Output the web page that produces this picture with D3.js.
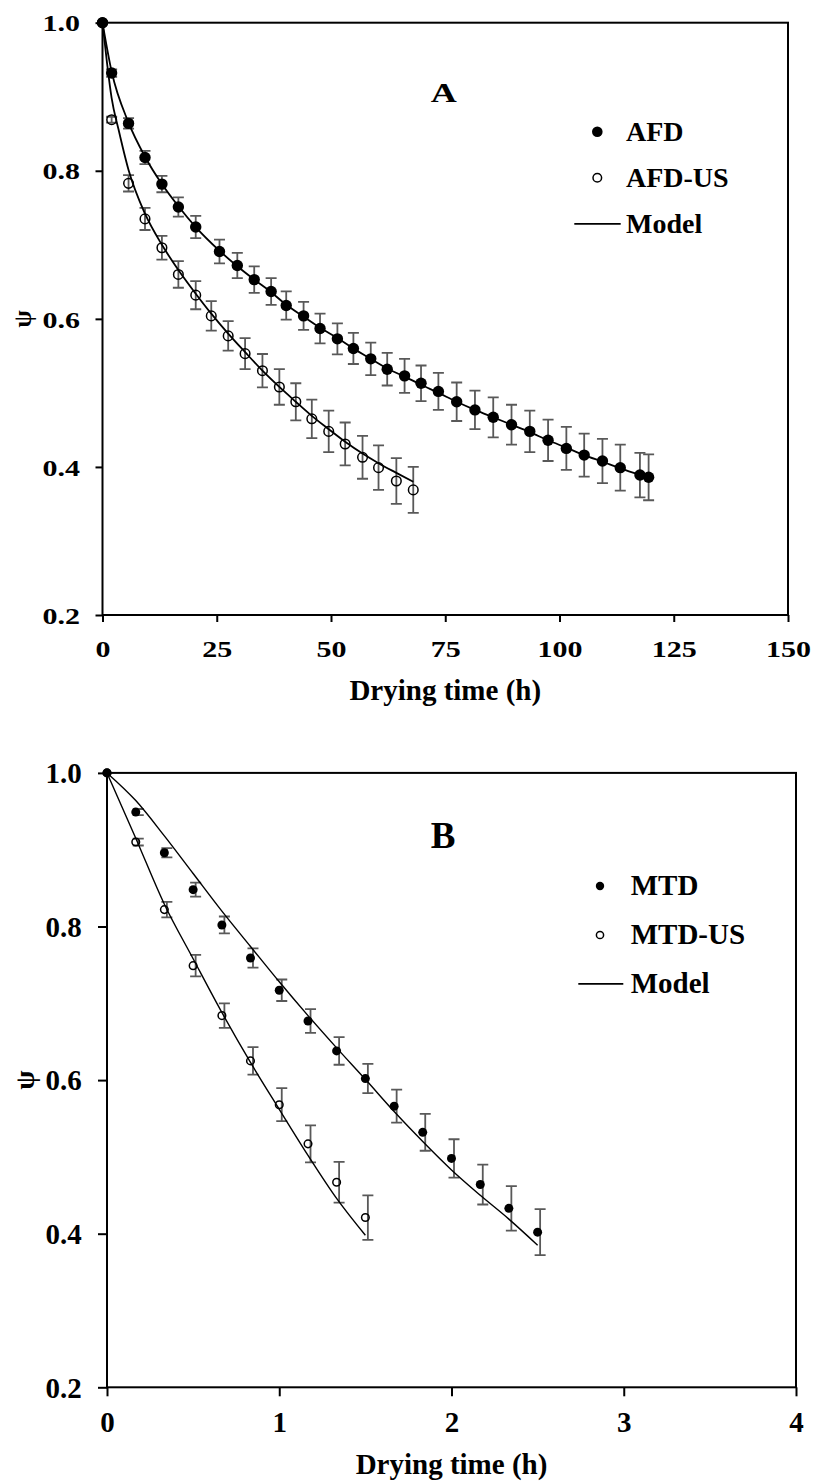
<!DOCTYPE html>
<html lang="en">
<head>
<meta charset="UTF-8">
<title>Drying kinetics - AFD / MTD</title>
<script src="https://d3js.org/d3.v7.min.js"></script>
<style>
    body { margin: 0; background: #fff; }
    svg text { font-family: "Liberation Serif", "Times New Roman", serif; font-weight: bold; fill: #000; }
</style>
</head>
<body>
<script>
    // ---- Panel A : air freeze drying (time in h) ----
    const afdTime = [0, 2, 5.7, 9.3, 13, 16.6, 20.4, 25.6, 29.5, 33.2, 36.9, 40.2, 44, 47.6, 51.4, 54.9, 58.7,
        62.3, 66.1, 69.7, 73.5, 77.5, 81.5, 85.5, 89.5, 93.5, 97.5, 101.5, 105.4, 109.4, 113.3, 117.6, 119.5];
    const afdPsi = [1.0, 0.932, 0.864, 0.818, 0.782, 0.751, 0.724, 0.691, 0.672, 0.653, 0.637, 0.618, 0.604, 0.587, 0.573,
        0.560, 0.546, 0.532, 0.523, 0.513, 0.502, 0.488, 0.477, 0.467, 0.457, 0.448, 0.436, 0.425, 0.416, 0.408, 0.399, 0.389, 0.386];
    const afdErr = [0, 0.005, 0.007, 0.009, 0.011, 0.013, 0.015, 0.016, 0.017, 0.018, 0.018, 0.019, 0.019, 0.020, 0.021,
        0.021, 0.022, 0.022, 0.023, 0.024, 0.025, 0.026, 0.026, 0.027, 0.027, 0.028, 0.028, 0.029, 0.029, 0.030, 0.031, 0.030, 0.031];

    const afdUsTime = [0, 2, 5.7, 9.3, 13, 16.6, 20.4, 23.8, 27.5, 31.2, 35, 38.7, 42.3, 45.8, 49.5, 53.1, 56.9, 60.4, 64.3, 68];
    const afdUsPsi = [1.0, 0.869, 0.783, 0.735, 0.696, 0.660, 0.632, 0.604, 0.577, 0.553, 0.530, 0.508, 0.488, 0.465,
        0.448, 0.431, 0.413, 0.399, 0.381, 0.369];
    const afdUsErr = [0, 0.004, 0.011, 0.015, 0.016, 0.018, 0.019, 0.020, 0.020, 0.021, 0.0225, 0.024, 0.025, 0.026,
        0.028, 0.029, 0.029, 0.030, 0.031, 0.031];

    const afdModelTime = [0, 2, 5.7, 9.3, 13, 16.6, 20.4, 25.6, 29.5, 33.2, 36.9, 40.2, 44, 47.6, 51.4, 54.9, 58.7,
        62.3, 66.1, 69.7, 73.5, 77.5, 81.5, 85.5, 89.5, 93.5, 97.5, 101.5, 105.4, 109.4, 113.3, 117.6, 119.5];
    const afdModelPsi = [1.0, 0.934, 0.865, 0.819, 0.782, 0.752, 0.724, 0.692, 0.671, 0.653, 0.636, 0.619, 0.603, 0.588, 0.574,
        0.560, 0.546, 0.533, 0.522, 0.511, 0.500, 0.488, 0.477, 0.467, 0.457, 0.447, 0.436, 0.426, 0.416, 0.407, 0.398, 0.389, 0.385];

    const afdUsModelTime = [0, 1, 2, 3.5, 5.7, 9.3, 13, 16.6, 20.4, 23.8, 27.5, 31.2, 35, 38.7, 42.3, 45.8, 49.5,
        53.1, 56.9, 60.4, 64.3, 68];
    const afdUsModelPsi = [1.0, 0.945, 0.898, 0.856, 0.801, 0.742, 0.700, 0.666, 0.634, 0.607, 0.580, 0.555, 0.530,
        0.508, 0.488, 0.469, 0.451, 0.434, 0.418, 0.405, 0.392, 0.380];

    const aTicksX = [0, 25, 50, 75, 100, 125, 150];
    const aTicksY = [0.2, 0.4, 0.6, 0.8, 1.0];

    // ---- Panel B : microwave drying (time in h) ----
    const mtdTime = [0, 0.167, 0.333, 0.5, 0.667, 0.833, 1.0, 1.167, 1.333, 1.5, 1.667, 1.833, 2.0, 2.167, 2.333, 2.5];
    const mtdPsi = [1.0, 0.949, 0.896, 0.848, 0.802, 0.759, 0.717, 0.677, 0.638, 0.602, 0.566, 0.532, 0.498, 0.464, 0.433, 0.402];
    const mtdErr = [0, 0.004, 0.006, 0.009, 0.011, 0.0125, 0.014, 0.0155, 0.018, 0.019, 0.0215, 0.024, 0.025, 0.026, 0.029, 0.03];

    const mtdUsTime = [0, 0.167, 0.333, 0.5, 0.667, 0.833, 1.0, 1.167, 1.333, 1.5];
    const mtdUsPsi = [1.0, 0.910, 0.822, 0.749, 0.684, 0.625, 0.568, 0.517, 0.467, 0.421];
    const mtdUsErr = [0, 0.0045, 0.010, 0.014, 0.016, 0.018, 0.0215, 0.024, 0.0265, 0.029];

    const mtdModelTime = [0, 0.167, 0.333, 0.5, 0.667, 0.833, 1.0, 1.167, 1.333, 1.5, 1.667, 1.833, 2.0, 2.167, 2.333, 2.5];
    const mtdModelPsi = [1.0, 0.964, 0.918, 0.869, 0.820, 0.774, 0.728, 0.684, 0.642, 0.601, 0.559, 0.520, 0.483, 0.450, 0.419, 0.385];

    const mtdUsModelTime = [0, 0.167, 0.333, 0.5, 0.667, 0.833, 1.0, 1.167, 1.333, 1.5];
    const mtdUsModelPsi = [1.0, 0.915, 0.829, 0.758, 0.688, 0.623, 0.562, 0.502, 0.446, 0.398];

    const bTicksX = [0, 1, 2, 3, 4];
    const bTicksY = [0.2, 0.4, 0.6, 0.8, 1.0];

    const zip = (t, v, e) => t.map((d, i) => ({t: d, v: v[i], e: e ? e[i] : 0}));

    const svg = d3.select("body").append("svg")
        .attr("width", 813)
        .attr("height", 1483);

    const panels = [
        {
            x: d3.scaleLinear().domain([0, 150]).range([102.5, 788]),
            y: d3.scaleLinear().domain([0.2, 1.0]).range([615, 22.7]),
            ticksX: aTicksX, ticksY: aTicksY,
            tick: 7, tickFont: 30, sy: 0.8, xLabY: 42, yLabX: -22.5,
            title: "A", titleX: 443.7, titleY: 101.7, titleFont: 36, titleSy: 0.78,
            psiX: 22, psiFont: 25,
            xTitleY: 700, xTitleFont: 29,
            filled: zip(afdTime, afdPsi, afdErr),
            open: zip(afdUsTime, afdUsPsi, afdUsErr),
            models: [zip(afdModelTime, afdModelPsi), zip(afdUsModelTime, afdUsModelPsi)],
            rFill: 5.7, rOpen: 4.8, barDx: 0, cap: 5.5, modelW: 1.8,
            legend: {dotX: 597.3, textX: 626, y1: 140.7, y2: 186.7, y3: 233.3, lineX: [574.3, 620.7], font: 28,
                names: ["AFD", "AFD-US", "Model"], rFill: 5.3, rOpen: 4.3}
        },
        {
            x: d3.scaleLinear().domain([0, 4]).range([107, 796]),
            y: d3.scaleLinear().domain([0.2, 1.0]).range([1387.3, 772.9]),
            ticksX: bTicksX, ticksY: bTicksY,
            tick: 9, tickFont: 29, sy: 1, xLabY: 45, yLabX: -25.3,
            title: "B", titleX: 443, titleY: 848.3, titleFont: 37, titleSy: 1,
            psiX: 24, psiFont: 28,
            xTitleY: 1474, xTitleFont: 29,
            filled: zip(mtdTime, mtdPsi, mtdErr),
            open: zip(mtdUsTime, mtdUsPsi, mtdUsErr),
            models: [zip(mtdModelTime, mtdModelPsi), zip(mtdUsModelTime, mtdUsModelPsi)],
            rFill: 4.5, rOpen: 3.8, barDx: 2.5, cap: 5.5, modelW: 1.4,
            legend: {dotX: 600, textX: 630.7, y1: 895, y2: 944, y3: 993.3, lineX: [578.3, 623.3], font: 29,
                names: ["MTD", "MTD-US", "Model"], rFill: 4.2, rOpen: 3.6}
        }
    ];

    panels.forEach(p => drawPanel(p));

    function drawPanel(p) {
        const [x0, x1] = p.x.range();
        const [yB, yT] = p.y.range();
        const g = svg.append("g");

        // axes
        const gx = g.append("g")
            .attr("transform", `translate(0,${yB})`)
            .call(d3.axisBottom(p.x).tickValues(p.ticksX).tickSize(p.tick).tickSizeOuter(0).tickFormat(d3.format("d")));
        gx.select(".domain").remove();
        gx.selectAll("line").attr("stroke", "#000").attr("stroke-width", 2);
        gx.selectAll("text")
            .attr("y", null).attr("dy", null)
            .attr("transform", `translate(0,${p.xLabY}) scale(1,${p.sy})`)
            .style("font-size", p.tickFont + "px");

        const gy = g.append("g")
            .attr("transform", `translate(${x0},0)`)
            .call(d3.axisLeft(p.y).tickValues(p.ticksY).tickSize(p.tick).tickSizeOuter(0).tickFormat(d3.format(".1f")));
        gy.select(".domain").remove();
        gy.selectAll("line").attr("stroke", "#000").attr("stroke-width", 2);
        gy.selectAll("text")
            .attr("x", null).attr("dy", "0.34em")
            .attr("transform", `translate(${p.yLabX},0) scale(1,${p.sy})`)
            .style("font-size", p.tickFont + "px");
        g.selectAll(".tick text").attr("fill", "#000");
        g.selectAll("g").attr("font-family", null);

        // frame
        g.append("rect")
            .attr("x", x0).attr("y", yT)
            .attr("width", x1 - x0).attr("height", yB - yT)
            .attr("fill", "none").attr("stroke", "#000").attr("stroke-width", 2);

        // axis titles
        g.append("text")
            .attr("x", (x0 + x1) / 2).attr("y", p.xTitleY)
            .attr("text-anchor", "middle")
            .style("font-size", p.xTitleFont + "px")
            .text("Drying time (h)");

        g.append("text")
            .attr("transform", `translate(${p.psiX},${p.y(0.6)}) rotate(-90)`)
            .attr("text-anchor", "middle")
            .attr("dy", "0.35em")
            .style("font-size", p.psiFont + "px")
            .text("ψ");

        g.append("text")
            .attr("transform", `translate(${p.titleX},${p.titleY}) scale(1,${p.titleSy})`)
            .attr("text-anchor", "middle")
            .style("font-size", p.titleFont + "px")
            .text(p.title);

        // error bars
        const bars = p.filled.concat(p.open).filter(d => d.e > 0);
        const eb = g.append("g").attr("stroke", "#595959").attr("stroke-width", 1.8).attr("fill", "none");
        eb.selectAll("path")
            .data(bars)
            .join("path")
            .attr("d", d => {
                const bx = p.x(d.t) + p.barDx;
                const ya = p.y(d.v + d.e), yb = p.y(d.v - d.e);
                return `M${bx},${ya}V${yb}M${bx - p.cap},${ya}H${bx + p.cap}M${bx - p.cap},${yb}H${bx + p.cap}`;
            });

        // markers
        g.append("g").selectAll("circle")
            .data(p.filled)
            .join("circle")
            .attr("cx", d => p.x(d.t)).attr("cy", d => p.y(d.v))
            .attr("r", p.rFill).attr("fill", "#000");

        g.append("g").selectAll("circle")
            .data(p.open)
            .join("circle")
            .attr("cx", d => p.x(d.t)).attr("cy", d => p.y(d.v))
            .attr("r", p.rOpen).attr("fill", "none").attr("stroke", "#000").attr("stroke-width", 1.5);

        // model curves
        const line = d3.line().x(d => p.x(d.t)).y(d => p.y(d.v)).curve(d3.curveMonotoneX);
        g.append("g").selectAll("path")
            .data(p.models)
            .join("path")
            .attr("d", line)
            .attr("fill", "none").attr("stroke", "#000").attr("stroke-width", p.modelW);

        // legend
        const L = p.legend;
        const lg = g.append("g");
        lg.append("circle").attr("cx", L.dotX).attr("cy", L.y1 - 9).attr("r", L.rFill).attr("fill", "#000");
        lg.append("circle").attr("cx", L.dotX).attr("cy", L.y2 - 9).attr("r", L.rOpen)
            .attr("fill", "none").attr("stroke", "#000").attr("stroke-width", 1.5);
        lg.append("line").attr("x1", L.lineX[0]).attr("x2", L.lineX[1])
            .attr("y1", L.y3 - 9.5).attr("y2", L.y3 - 9.5).attr("stroke", "#000").attr("stroke-width", 1.8);
        [L.y1, L.y2, L.y3].forEach((yy, i) => {
            lg.append("text").attr("x", L.textX).attr("y", yy)
                .style("font-size", L.font + "px")
                .text(L.names[i]);
        });
    }
</script>
</body>
</html>
